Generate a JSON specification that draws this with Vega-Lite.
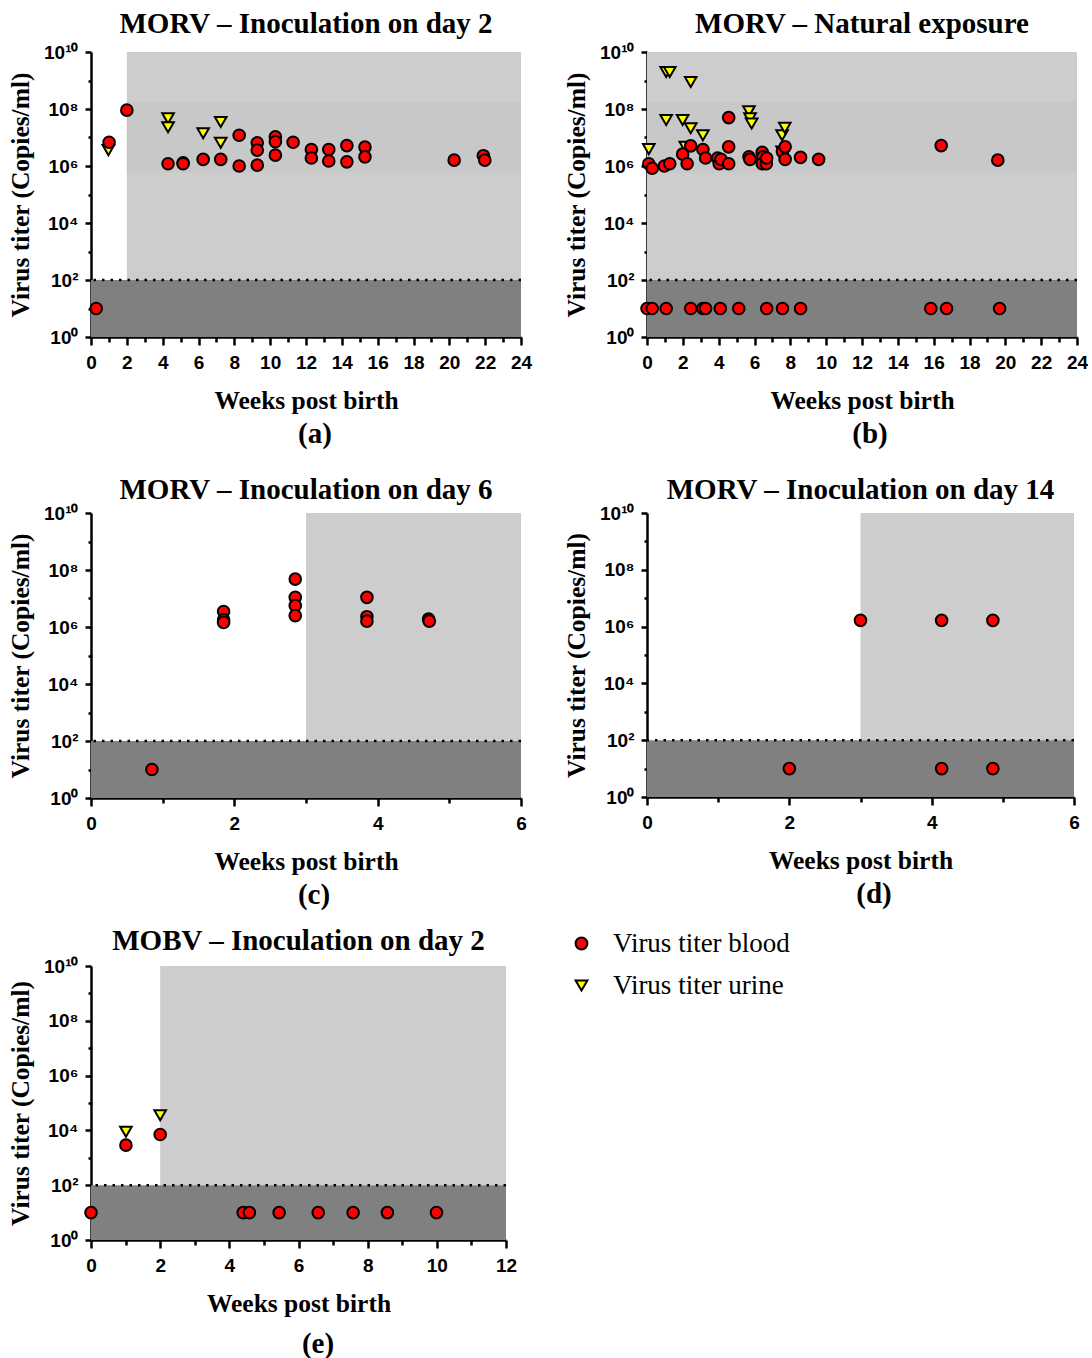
{
"$schema": "https://vega.github.io/schema/vega-lite/v6.json",
"background": "white",
"padding": {"left": 7, "top": 10, "right": 0, "bottom": 0},
"datasets": {
"lod": [{"lod": 100}],
"zones": [
{"panel":"a","zone":"light","x1":2,"x2":24,"y1":100,"y2":10000000000},
{"panel":"a","zone":"band","x1":2,"x2":24,"y1":575000,"y2":178000000},
{"panel":"a","zone":"dark","x1":0,"x2":24,"y1":1,"y2":100},
{"panel":"b","zone":"light","x1":0,"x2":24,"y1":100,"y2":10000000000},
{"panel":"b","zone":"band","x1":0,"x2":24,"y1":575000,"y2":178000000},
{"panel":"b","zone":"dark","x1":0,"x2":24,"y1":1,"y2":100},
{"panel":"c","zone":"light","x1":3,"x2":6,"y1":100,"y2":10000000000},
{"panel":"c","zone":"dark","x1":0,"x2":6,"y1":1,"y2":100},
{"panel":"d","zone":"light","x1":3,"x2":6,"y1":100,"y2":10000000000},
{"panel":"d","zone":"dark","x1":0,"x2":6,"y1":1,"y2":100},
{"panel":"e","zone":"light","x1":2,"x2":12,"y1":100,"y2":10000000000},
{"panel":"e","zone":"dark","x1":0,"x2":12,"y1":1,"y2":100}
],
"pts": [
{"panel":"a","week":0.97,"titer":3600000,"sample":"Virus titer urine"},
{"panel":"a","week":4.3,"titer":47000000,"sample":"Virus titer urine"},
{"panel":"a","week":4.3,"titer":23000000,"sample":"Virus titer urine"},
{"panel":"a","week":6.26,"titer":14000000,"sample":"Virus titer urine"},
{"panel":"a","week":7.24,"titer":35000000,"sample":"Virus titer urine"},
{"panel":"a","week":7.24,"titer":6500000,"sample":"Virus titer urine"},
{"panel":"b","week":0.1,"titer":3900000,"sample":"Virus titer urine"},
{"panel":"b","week":1.07,"titer":2000000000,"sample":"Virus titer urine"},
{"panel":"b","week":1.27,"titer":2000000000,"sample":"Virus titer urine"},
{"panel":"b","week":1.07,"titer":41000000,"sample":"Virus titer urine"},
{"panel":"b","week":1.99,"titer":41000000,"sample":"Virus titer urine"},
{"panel":"b","week":2.44,"titer":890000000,"sample":"Virus titer urine"},
{"panel":"b","week":2.44,"titer":21000000,"sample":"Virus titer urine"},
{"panel":"b","week":2.14,"titer":4700000,"sample":"Virus titer urine"},
{"panel":"b","week":3.12,"titer":12000000,"sample":"Virus titer urine"},
{"panel":"b","week":5.69,"titer":83000000,"sample":"Virus titer urine"},
{"panel":"b","week":5.75,"titer":47000000,"sample":"Virus titer urine"},
{"panel":"b","week":5.84,"titer":31000000,"sample":"Virus titer urine"},
{"panel":"b","week":7.54,"titer":12000000,"sample":"Virus titer urine"},
{"panel":"b","week":7.69,"titer":22000000,"sample":"Virus titer urine"},
{"panel":"b","week":7.54,"titer":3200000,"sample":"Virus titer urine"},
{"panel":"e","week":1.01,"titer":8900,"sample":"Virus titer urine"},
{"panel":"e","week":2.0,"titer":36000,"sample":"Virus titer urine"},
{"panel":"a","week":0.29,"titer":10,"sample":"Virus titer blood"},
{"panel":"a","week":1.01,"titer":6800000,"sample":"Virus titer blood"},
{"panel":"a","week":2.0,"titer":91000000,"sample":"Virus titer blood"},
{"panel":"a","week":4.3,"titer":1200000,"sample":"Virus titer blood"},
{"panel":"a","week":5.14,"titer":1300000,"sample":"Virus titer blood"},
{"panel":"a","week":5.14,"titer":1200000,"sample":"Virus titer blood"},
{"panel":"a","week":6.26,"titer":1700000,"sample":"Virus titer blood"},
{"panel":"a","week":7.24,"titer":1700000,"sample":"Virus titer blood"},
{"panel":"a","week":8.27,"titer":12000000,"sample":"Virus titer blood"},
{"panel":"a","week":8.27,"titer":1000000,"sample":"Virus titer blood"},
{"panel":"a","week":9.28,"titer":6500000,"sample":"Virus titer blood"},
{"panel":"a","week":9.28,"titer":3600000,"sample":"Virus titer blood"},
{"panel":"a","week":9.28,"titer":1070000,"sample":"Virus titer blood"},
{"panel":"a","week":10.29,"titer":10500000,"sample":"Virus titer blood"},
{"panel":"a","week":10.29,"titer":7100000,"sample":"Virus titer blood"},
{"panel":"a","week":10.29,"titer":2400000,"sample":"Virus titer blood"},
{"panel":"a","week":11.28,"titer":6800000,"sample":"Virus titer blood"},
{"panel":"a","week":12.3,"titer":3800000,"sample":"Virus titer blood"},
{"panel":"a","week":12.3,"titer":1900000,"sample":"Virus titer blood"},
{"panel":"a","week":13.27,"titer":3800000,"sample":"Virus titer blood"},
{"panel":"a","week":13.27,"titer":1500000,"sample":"Virus titer blood"},
{"panel":"a","week":14.28,"titer":5200000,"sample":"Virus titer blood"},
{"panel":"a","week":14.28,"titer":1400000,"sample":"Virus titer blood"},
{"panel":"a","week":15.29,"titer":4600000,"sample":"Virus titer blood"},
{"panel":"a","week":15.29,"titer":2100000,"sample":"Virus titer blood"},
{"panel":"a","week":20.27,"titer":1600000,"sample":"Virus titer blood"},
{"panel":"a","week":21.9,"titer":2300000,"sample":"Virus titer blood"},
{"panel":"a","week":21.98,"titer":1600000,"sample":"Virus titer blood"},
{"panel":"b","week":0,"titer":10,"sample":"Virus titer blood"},
{"panel":"b","week":0.29,"titer":10,"sample":"Virus titer blood"},
{"panel":"b","week":1.07,"titer":10,"sample":"Virus titer blood"},
{"panel":"b","week":2.44,"titer":10,"sample":"Virus titer blood"},
{"panel":"b","week":3.12,"titer":10,"sample":"Virus titer blood"},
{"panel":"b","week":3.27,"titer":10,"sample":"Virus titer blood"},
{"panel":"b","week":4.09,"titer":10,"sample":"Virus titer blood"},
{"panel":"b","week":5.12,"titer":10,"sample":"Virus titer blood"},
{"panel":"b","week":6.68,"titer":10,"sample":"Virus titer blood"},
{"panel":"b","week":7.56,"titer":10,"sample":"Virus titer blood"},
{"panel":"b","week":8.57,"titer":10,"sample":"Virus titer blood"},
{"panel":"b","week":15.84,"titer":10,"sample":"Virus titer blood"},
{"panel":"b","week":16.72,"titer":10,"sample":"Virus titer blood"},
{"panel":"b","week":19.68,"titer":10,"sample":"Virus titer blood"},
{"panel":"b","week":0.1,"titer":1200000,"sample":"Virus titer blood"},
{"panel":"b","week":0.29,"titer":830000,"sample":"Virus titer blood"},
{"panel":"b","week":0.97,"titer":1000000,"sample":"Virus titer blood"},
{"panel":"b","week":1.27,"titer":1200000,"sample":"Virus titer blood"},
{"panel":"b","week":1.99,"titer":2600000,"sample":"Virus titer blood"},
{"panel":"b","week":2.24,"titer":1200000,"sample":"Virus titer blood"},
{"panel":"b","week":2.44,"titer":5100000,"sample":"Virus titer blood"},
{"panel":"b","week":3.12,"titer":3800000,"sample":"Virus titer blood"},
{"panel":"b","week":3.27,"titer":1900000,"sample":"Virus titer blood"},
{"panel":"b","week":3.94,"titer":1900000,"sample":"Virus titer blood"},
{"panel":"b","week":4.03,"titer":1200000,"sample":"Virus titer blood"},
{"panel":"b","week":4.13,"titer":1700000,"sample":"Virus titer blood"},
{"panel":"b","week":4.56,"titer":50000000,"sample":"Virus titer blood"},
{"panel":"b","week":4.56,"titer":4700000,"sample":"Virus titer blood"},
{"panel":"b","week":4.56,"titer":1200000,"sample":"Virus titer blood"},
{"panel":"b","week":5.69,"titer":2100000,"sample":"Virus titer blood"},
{"panel":"b","week":5.75,"titer":1700000,"sample":"Virus titer blood"},
{"panel":"b","week":6.43,"titer":3000000,"sample":"Virus titer blood"},
{"panel":"b","week":6.47,"titer":2100000,"sample":"Virus titer blood"},
{"panel":"b","week":6.43,"titer":1200000,"sample":"Virus titer blood"},
{"panel":"b","week":6.66,"titer":1200000,"sample":"Virus titer blood"},
{"panel":"b","week":6.68,"titer":1900000,"sample":"Virus titer blood"},
{"panel":"b","week":7.56,"titer":3200000,"sample":"Virus titer blood"},
{"panel":"b","week":7.71,"titer":4700000,"sample":"Virus titer blood"},
{"panel":"b","week":7.71,"titer":1700000,"sample":"Virus titer blood"},
{"panel":"b","week":8.57,"titer":2000000,"sample":"Virus titer blood"},
{"panel":"b","week":9.58,"titer":1700000,"sample":"Virus titer blood"},
{"panel":"b","week":16.42,"titer":5200000,"sample":"Virus titer blood"},
{"panel":"b","week":19.58,"titer":1600000,"sample":"Virus titer blood"},
{"panel":"c","week":0.85,"titer":10,"sample":"Virus titer blood"},
{"panel":"c","week":1.85,"titer":3500000,"sample":"Virus titer blood"},
{"panel":"c","week":1.85,"titer":1800000,"sample":"Virus titer blood"},
{"panel":"c","week":1.85,"titer":1450000,"sample":"Virus titer blood"},
{"panel":"c","week":2.85,"titer":48000000,"sample":"Virus titer blood"},
{"panel":"c","week":2.85,"titer":11000000,"sample":"Virus titer blood"},
{"panel":"c","week":2.85,"titer":5600000,"sample":"Virus titer blood"},
{"panel":"c","week":2.85,"titer":2500000,"sample":"Virus titer blood"},
{"panel":"c","week":3.85,"titer":11000000,"sample":"Virus titer blood"},
{"panel":"c","week":3.85,"titer":2300000,"sample":"Virus titer blood"},
{"panel":"c","week":3.85,"titer":1600000,"sample":"Virus titer blood"},
{"panel":"c","week":4.71,"titer":1900000,"sample":"Virus titer blood"},
{"panel":"c","week":4.72,"titer":1600000,"sample":"Virus titer blood"},
{"panel":"d","week":2.0,"titer":10,"sample":"Virus titer blood"},
{"panel":"d","week":3.0,"titer":1660000,"sample":"Virus titer blood"},
{"panel":"d","week":4.14,"titer":1660000,"sample":"Virus titer blood"},
{"panel":"d","week":4.14,"titer":10,"sample":"Virus titer blood"},
{"panel":"d","week":4.86,"titer":1660000,"sample":"Virus titer blood"},
{"panel":"d","week":4.86,"titer":10,"sample":"Virus titer blood"},
{"panel":"e","week":0,"titer":10,"sample":"Virus titer blood"},
{"panel":"e","week":1.01,"titer":2900,"sample":"Virus titer blood"},
{"panel":"e","week":2.0,"titer":7100,"sample":"Virus titer blood"},
{"panel":"e","week":4.4,"titer":10,"sample":"Virus titer blood"},
{"panel":"e","week":4.58,"titer":10,"sample":"Virus titer blood"},
{"panel":"e","week":5.44,"titer":10,"sample":"Virus titer blood"},
{"panel":"e","week":6.57,"titer":10,"sample":"Virus titer blood"},
{"panel":"e","week":7.58,"titer":10,"sample":"Virus titer blood"},
{"panel":"e","week":8.57,"titer":10,"sample":"Virus titer blood"},
{"panel":"e","week":9.99,"titer":10,"sample":"Virus titer blood"}
]
},
"vconcat": [
{"hconcat": [
{"title": {"text": "(a)", "orient": "bottom", "offset": 6, "dx": 224},
 "vconcat": [{"width": 430, "height": 285, "title": {"text": "MORV – Inoculation on day 2"},
 "resolve": {"axis": {"x": "independent", "y": "independent"}},
 "layer": [
 {"data": {"name": "zones"}, "transform": [{"filter": "datum.panel == 'a' && datum.zone == 'light'"}], "mark": {"type": "rect", "color": "#cdcdcd"},
  "encoding": {
   "x": {"field": "x1", "type": "quantitative", "scale": {"domain": [0, 24], "nice": false, "zero": false}, "axis": {"title": "Weeks post birth", "orient": "bottom", "values": [0,2,4,6,8,10,12,14,16,18,20,22,24], "format": "d"}},
   "x2": {"field": "x2"},
   "y": {"field": "y1", "type": "quantitative", "scale": {"type": "log", "domain": [1, 10000000000], "nice": false}, "axis": {"title": "Virus titer (Copies/ml)", "orient": "left", "values": [1,100,10000,1000000,100000000,10000000000], "labelExpr": "datum.value == 10000000000 ? '10¹⁰' : datum.value == 100000000 ? '10⁸' : datum.value == 1000000 ? '10⁶' : datum.value == 10000 ? '10⁴' : datum.value == 100 ? '10²' : '10⁰'"}},
   "y2": {"field": "y2"}}},
 {"data": {"name": "zones"}, "transform": [{"filter": "datum.panel == 'a' && datum.zone == 'band'"}], "mark": {"type": "rect", "color": "#c8c8c8"},
  "encoding": {"x": {"field": "x1", "type": "quantitative", "scale": {"domain": [0, 24], "nice": false, "zero": false}, "axis": null}, "x2": {"field": "x2"}, "y": {"field": "y1", "type": "quantitative", "scale": {"type": "log", "domain": [1, 10000000000], "nice": false}, "axis": null}, "y2": {"field": "y2"}}},
 {"data": {"name": "zones"}, "transform": [{"filter": "datum.panel == 'a' && datum.zone == 'dark'"}], "mark": {"type": "rect", "color": "#808080"},
  "encoding": {
   "x": {"field": "x1", "type": "quantitative", "scale": {"domain": [0, 24], "nice": false, "zero": false}, "axis": {"title": null, "orient": "bottom", "values": [1,3,5,7,9,11,13,15,17,19,21,23], "labels": false, "domain": false, "tickSize": 5, "minExtent": 0, "maxExtent": 0}},
   "x2": {"field": "x2"},
   "y": {"field": "y1", "type": "quantitative", "scale": {"type": "log", "domain": [1, 10000000000], "nice": false}, "axis": {"title": null, "orient": "left", "values": [10,1000,100000,10000000,1000000000], "labels": false, "domain": false, "tickSize": 3, "minExtent": 0, "maxExtent": 0}},
   "y2": {"field": "y2"}}},
 {"data": {"name": "lod"}, "mark": {"type": "rule", "color": "black", "strokeWidth": 2.5, "strokeDash": [2.5, 6]},
  "encoding": {"y": {"field": "lod", "type": "quantitative", "scale": {"type": "log", "domain": [1, 10000000000], "nice": false}, "axis": null}}},
 {"data": {"name": "pts"}, "transform": [{"filter": "datum.panel == 'a'"}], "mark": {"type": "point", "filled": true, "stroke": "black", "strokeWidth": 2, "size": 135, "opacity": 1},
  "encoding": {
   "x": {"field": "week", "type": "quantitative", "scale": {"domain": [0, 24], "nice": false, "zero": false}, "axis": null},
   "y": {"field": "titer", "type": "quantitative", "scale": {"type": "log", "domain": [1, 10000000000], "nice": false}, "axis": null},
   "shape": {"field": "sample", "type": "nominal", "scale": {"domain": ["Virus titer blood", "Virus titer urine"], "range": ["circle", "triangle-down"]}, "legend": {"title": null, "encode": {"symbols": {"update": {"stroke": {"value": "black"}, "strokeWidth": {"value": 2}, "size": {"value": 140}}}}}},
   "fill": {"field": "sample", "type": "nominal", "scale": {"domain": ["Virus titer blood", "Virus titer urine"], "range": ["#ff0000", "#ffff00"]}, "legend": {"title": null, "encode": {"symbols": {"update": {"stroke": {"value": "black"}, "strokeWidth": {"value": 2}, "size": {"value": 140}}}}}}
  }}
 ]}]},
{"title": {"text": "(b)", "orient": "bottom", "offset": 6, "dx": 223},
 "vconcat": [{"width": 430, "height": 285, "title": {"text": "MORV – Natural exposure"},
 "resolve": {"axis": {"x": "independent", "y": "independent"}},
 "layer": [
 {"data": {"name": "zones"}, "transform": [{"filter": "datum.panel == 'b' && datum.zone == 'light'"}], "mark": {"type": "rect", "color": "#cdcdcd"},
  "encoding": {
   "x": {"field": "x1", "type": "quantitative", "scale": {"domain": [0, 24], "nice": false, "zero": false}, "axis": {"title": "Weeks post birth", "orient": "bottom", "values": [0,2,4,6,8,10,12,14,16,18,20,22,24], "format": "d"}},
   "x2": {"field": "x2"},
   "y": {"field": "y1", "type": "quantitative", "scale": {"type": "log", "domain": [1, 10000000000], "nice": false}, "axis": {"title": "Virus titer (Copies/ml)", "orient": "left", "values": [1,100,10000,1000000,100000000,10000000000], "labelExpr": "datum.value == 10000000000 ? '10¹⁰' : datum.value == 100000000 ? '10⁸' : datum.value == 1000000 ? '10⁶' : datum.value == 10000 ? '10⁴' : datum.value == 100 ? '10²' : '10⁰'"}},
   "y2": {"field": "y2"}}},
 {"data": {"name": "zones"}, "transform": [{"filter": "datum.panel == 'b' && datum.zone == 'band'"}], "mark": {"type": "rect", "color": "#c8c8c8"},
  "encoding": {"x": {"field": "x1", "type": "quantitative", "scale": {"domain": [0, 24], "nice": false, "zero": false}, "axis": null}, "x2": {"field": "x2"}, "y": {"field": "y1", "type": "quantitative", "scale": {"type": "log", "domain": [1, 10000000000], "nice": false}, "axis": null}, "y2": {"field": "y2"}}},
 {"data": {"name": "zones"}, "transform": [{"filter": "datum.panel == 'b' && datum.zone == 'dark'"}], "mark": {"type": "rect", "color": "#808080"},
  "encoding": {
   "x": {"field": "x1", "type": "quantitative", "scale": {"domain": [0, 24], "nice": false, "zero": false}, "axis": {"title": null, "orient": "bottom", "values": [1,3,5,7,9,11,13,15,17,19,21,23], "labels": false, "domain": false, "tickSize": 5, "minExtent": 0, "maxExtent": 0}},
   "x2": {"field": "x2"},
   "y": {"field": "y1", "type": "quantitative", "scale": {"type": "log", "domain": [1, 10000000000], "nice": false}, "axis": {"title": null, "orient": "left", "values": [10,1000,100000,10000000,1000000000], "labels": false, "domain": false, "tickSize": 3, "minExtent": 0, "maxExtent": 0}},
   "y2": {"field": "y2"}}},
 {"data": {"name": "lod"}, "mark": {"type": "rule", "color": "black", "strokeWidth": 2.5, "strokeDash": [2.5, 6]},
  "encoding": {"y": {"field": "lod", "type": "quantitative", "scale": {"type": "log", "domain": [1, 10000000000], "nice": false}, "axis": null}}},
 {"data": {"name": "pts"}, "transform": [{"filter": "datum.panel == 'b'"}], "mark": {"type": "point", "filled": true, "stroke": "black", "strokeWidth": 2, "size": 135, "opacity": 1},
  "encoding": {
   "x": {"field": "week", "type": "quantitative", "scale": {"domain": [0, 24], "nice": false, "zero": false}, "axis": null},
   "y": {"field": "titer", "type": "quantitative", "scale": {"type": "log", "domain": [1, 10000000000], "nice": false}, "axis": null},
   "shape": {"field": "sample", "type": "nominal", "scale": {"domain": ["Virus titer blood", "Virus titer urine"], "range": ["circle", "triangle-down"]}, "legend": {"title": null, "encode": {"symbols": {"update": {"stroke": {"value": "black"}, "strokeWidth": {"value": 2}, "size": {"value": 140}}}}}},
   "fill": {"field": "sample", "type": "nominal", "scale": {"domain": ["Virus titer blood", "Virus titer urine"], "range": ["#ff0000", "#ffff00"]}, "legend": {"title": null, "encode": {"symbols": {"update": {"stroke": {"value": "black"}, "strokeWidth": {"value": 2}, "size": {"value": 140}}}}}}
  }}
 ]}]}
], "spacing": 31},
{"vconcat": [
{"hconcat": [
{"title": {"text": "(c)", "orient": "bottom", "offset": 6, "dx": 223},
 "vconcat": [{"width": 430, "height": 285, "title": {"text": "MORV – Inoculation on day 6", "offset": -1},
 "resolve": {"axis": {"x": "independent", "y": "independent"}},
 "layer": [
 {"data": {"name": "zones"}, "transform": [{"filter": "datum.panel == 'c' && datum.zone == 'light'"}], "mark": {"type": "rect", "color": "#cdcdcd"},
  "encoding": {
   "x": {"field": "x1", "type": "quantitative", "scale": {"domain": [0, 6], "nice": false, "zero": false}, "axis": {"title": "Weeks post birth", "orient": "bottom", "values": [0,2,4,6], "format": "d"}},
   "x2": {"field": "x2"},
   "y": {"field": "y1", "type": "quantitative", "scale": {"type": "log", "domain": [1, 10000000000], "nice": false}, "axis": {"title": "Virus titer (Copies/ml)", "orient": "left", "values": [1,100,10000,1000000,100000000,10000000000], "labelExpr": "datum.value == 10000000000 ? '10¹⁰' : datum.value == 100000000 ? '10⁸' : datum.value == 1000000 ? '10⁶' : datum.value == 10000 ? '10⁴' : datum.value == 100 ? '10²' : '10⁰'"}},
   "y2": {"field": "y2"}}},
 {"data": {"name": "zones"}, "transform": [{"filter": "datum.panel == 'c' && datum.zone == 'dark'"}], "mark": {"type": "rect", "color": "#808080"},
  "encoding": {
   "x": {"field": "x1", "type": "quantitative", "scale": {"domain": [0, 6], "nice": false, "zero": false}, "axis": {"title": null, "orient": "bottom", "values": [1,3,5], "labels": false, "domain": false, "tickSize": 5, "minExtent": 0, "maxExtent": 0}},
   "x2": {"field": "x2"},
   "y": {"field": "y1", "type": "quantitative", "scale": {"type": "log", "domain": [1, 10000000000], "nice": false}, "axis": {"title": null, "orient": "left", "values": [10,1000,100000,10000000,1000000000], "labels": false, "domain": false, "tickSize": 3, "minExtent": 0, "maxExtent": 0}},
   "y2": {"field": "y2"}}},
 {"data": {"name": "lod"}, "mark": {"type": "rule", "color": "black", "strokeWidth": 2.5, "strokeDash": [2.5, 6]},
  "encoding": {"y": {"field": "lod", "type": "quantitative", "scale": {"type": "log", "domain": [1, 10000000000], "nice": false}, "axis": null}}},
 {"data": {"name": "pts"}, "transform": [{"filter": "datum.panel == 'c'"}], "mark": {"type": "point", "filled": true, "stroke": "black", "strokeWidth": 2, "size": 135, "opacity": 1},
  "encoding": {
   "x": {"field": "week", "type": "quantitative", "scale": {"domain": [0, 6], "nice": false, "zero": false}, "axis": null},
   "y": {"field": "titer", "type": "quantitative", "scale": {"type": "log", "domain": [1, 10000000000], "nice": false}, "axis": null},
   "shape": {"field": "sample", "type": "nominal", "scale": {"domain": ["Virus titer blood", "Virus titer urine"], "range": ["circle", "triangle-down"]}, "legend": {"title": null, "encode": {"symbols": {"update": {"stroke": {"value": "black"}, "strokeWidth": {"value": 2}, "size": {"value": 140}}}}}},
   "fill": {"field": "sample", "type": "nominal", "scale": {"domain": ["Virus titer blood", "Virus titer urine"], "range": ["#ff0000", "#ffff00"]}, "legend": {"title": null, "encode": {"symbols": {"update": {"stroke": {"value": "black"}, "strokeWidth": {"value": 2}, "size": {"value": 140}}}}}}
  }}
 ]}]},
{"title": {"text": "(d)", "orient": "bottom", "offset": 6, "dx": 227},
 "vconcat": [{"width": 427, "height": 284, "title": {"text": "MORV – Inoculation on day 14", "offset": -1},
 "resolve": {"axis": {"x": "independent", "y": "independent"}},
 "layer": [
 {"data": {"name": "zones"}, "transform": [{"filter": "datum.panel == 'd' && datum.zone == 'light'"}], "mark": {"type": "rect", "color": "#cdcdcd"},
  "encoding": {
   "x": {"field": "x1", "type": "quantitative", "scale": {"domain": [0, 6], "nice": false, "zero": false}, "axis": {"title": "Weeks post birth", "orient": "bottom", "values": [0,2,4,6], "format": "d"}},
   "x2": {"field": "x2"},
   "y": {"field": "y1", "type": "quantitative", "scale": {"type": "log", "domain": [1, 10000000000], "nice": false}, "axis": {"title": "Virus titer (Copies/ml)", "orient": "left", "values": [1,100,10000,1000000,100000000,10000000000], "labelExpr": "datum.value == 10000000000 ? '10¹⁰' : datum.value == 100000000 ? '10⁸' : datum.value == 1000000 ? '10⁶' : datum.value == 10000 ? '10⁴' : datum.value == 100 ? '10²' : '10⁰'"}},
   "y2": {"field": "y2"}}},
 {"data": {"name": "zones"}, "transform": [{"filter": "datum.panel == 'd' && datum.zone == 'dark'"}], "mark": {"type": "rect", "color": "#808080"},
  "encoding": {
   "x": {"field": "x1", "type": "quantitative", "scale": {"domain": [0, 6], "nice": false, "zero": false}, "axis": {"title": null, "orient": "bottom", "values": [1,3,5], "labels": false, "domain": false, "tickSize": 5, "minExtent": 0, "maxExtent": 0}},
   "x2": {"field": "x2"},
   "y": {"field": "y1", "type": "quantitative", "scale": {"type": "log", "domain": [1, 10000000000], "nice": false}, "axis": {"title": null, "orient": "left", "values": [10,1000,100000,10000000,1000000000], "labels": false, "domain": false, "tickSize": 3, "minExtent": 0, "maxExtent": 0}},
   "y2": {"field": "y2"}}},
 {"data": {"name": "lod"}, "mark": {"type": "rule", "color": "black", "strokeWidth": 2.5, "strokeDash": [2.5, 6]},
  "encoding": {"y": {"field": "lod", "type": "quantitative", "scale": {"type": "log", "domain": [1, 10000000000], "nice": false}, "axis": null}}},
 {"data": {"name": "pts"}, "transform": [{"filter": "datum.panel == 'd'"}], "mark": {"type": "point", "filled": true, "stroke": "black", "strokeWidth": 2, "size": 135, "opacity": 1},
  "encoding": {
   "x": {"field": "week", "type": "quantitative", "scale": {"domain": [0, 6], "nice": false, "zero": false}, "axis": null},
   "y": {"field": "titer", "type": "quantitative", "scale": {"type": "log", "domain": [1, 10000000000], "nice": false}, "axis": null},
   "shape": {"field": "sample", "type": "nominal", "scale": {"domain": ["Virus titer blood", "Virus titer urine"], "range": ["circle", "triangle-down"]}, "legend": {"title": null, "encode": {"symbols": {"update": {"stroke": {"value": "black"}, "strokeWidth": {"value": 2}, "size": {"value": 140}}}}}},
   "fill": {"field": "sample", "type": "nominal", "scale": {"domain": ["Virus titer blood", "Virus titer urine"], "range": ["#ff0000", "#ffff00"]}, "legend": {"title": null, "encode": {"symbols": {"update": {"stroke": {"value": "black"}, "strokeWidth": {"value": 2}, "size": {"value": 140}}}}}}
  }}
 ]}]}
], "spacing": 36},
{"hconcat": [
{"title": {"text": "(e)", "orient": "bottom", "offset": 13, "dx": 227},
 "vconcat": [{"width": 415, "height": 274, "title": {"text": "MOBV – Inoculation on day 2", "offset": 1},
 "resolve": {"axis": {"x": "independent", "y": "independent"}},
 "layer": [
 {"data": {"name": "zones"}, "transform": [{"filter": "datum.panel == 'e' && datum.zone == 'light'"}], "mark": {"type": "rect", "color": "#cdcdcd"},
  "encoding": {
   "x": {"field": "x1", "type": "quantitative", "scale": {"domain": [0, 12], "nice": false, "zero": false}, "axis": {"title": "Weeks post birth", "orient": "bottom", "values": [0,2,4,6,8,10,12], "format": "d"}},
   "x2": {"field": "x2"},
   "y": {"field": "y1", "type": "quantitative", "scale": {"type": "log", "domain": [1, 10000000000], "nice": false}, "axis": {"title": "Virus titer (Copies/ml)", "orient": "left", "values": [1,100,10000,1000000,100000000,10000000000], "labelExpr": "datum.value == 10000000000 ? '10¹⁰' : datum.value == 100000000 ? '10⁸' : datum.value == 1000000 ? '10⁶' : datum.value == 10000 ? '10⁴' : datum.value == 100 ? '10²' : '10⁰'"}},
   "y2": {"field": "y2"}}},
 {"data": {"name": "zones"}, "transform": [{"filter": "datum.panel == 'e' && datum.zone == 'dark'"}], "mark": {"type": "rect", "color": "#808080"},
  "encoding": {
   "x": {"field": "x1", "type": "quantitative", "scale": {"domain": [0, 12], "nice": false, "zero": false}, "axis": {"title": null, "orient": "bottom", "values": [1,3,5,7,9,11], "labels": false, "domain": false, "tickSize": 5, "minExtent": 0, "maxExtent": 0}},
   "x2": {"field": "x2"},
   "y": {"field": "y1", "type": "quantitative", "scale": {"type": "log", "domain": [1, 10000000000], "nice": false}, "axis": {"title": null, "orient": "left", "values": [10,1000,100000,10000000,1000000000], "labels": false, "domain": false, "tickSize": 3, "minExtent": 0, "maxExtent": 0}},
   "y2": {"field": "y2"}}},
 {"data": {"name": "lod"}, "mark": {"type": "rule", "color": "black", "strokeWidth": 2.5, "strokeDash": [2.5, 6]},
  "encoding": {"y": {"field": "lod", "type": "quantitative", "scale": {"type": "log", "domain": [1, 10000000000], "nice": false}, "axis": null}}},
 {"data": {"name": "pts"}, "transform": [{"filter": "datum.panel == 'e'"}], "mark": {"type": "point", "filled": true, "stroke": "black", "strokeWidth": 2, "size": 135, "opacity": 1},
  "encoding": {
   "x": {"field": "week", "type": "quantitative", "scale": {"domain": [0, 12], "nice": false, "zero": false}, "axis": null},
   "y": {"field": "titer", "type": "quantitative", "scale": {"type": "log", "domain": [1, 10000000000], "nice": false}, "axis": null},
   "shape": {"field": "sample", "type": "nominal", "scale": {"domain": ["Virus titer blood", "Virus titer urine"], "range": ["circle", "triangle-down"]}, "legend": {"title": null, "encode": {"symbols": {"update": {"stroke": {"value": "black"}, "strokeWidth": {"value": 2}, "size": {"value": 140}}}}}},
   "fill": {"field": "sample", "type": "nominal", "scale": {"domain": ["Virus titer blood", "Virus titer urine"], "range": ["#ff0000", "#ffff00"]}, "legend": {"title": null, "encode": {"symbols": {"update": {"stroke": {"value": "black"}, "strokeWidth": {"value": 2}, "size": {"value": 140}}}}}}
  }}
 ]}]}
]}
], "spacing": 17}
],
"spacing": 27,
"config": {
 "view": {"stroke": null},
 "axis": {"grid": false, "ticks": true, "domainColor": "black", "domainWidth": 2.5, "tickColor": "black", "tickWidth": 2.5, "tickOpacity": 1, "labelFont": "Liberation Sans", "labelFontWeight": "bold", "labelFontSize": 19, "labelColor": "black", "titleFont": "Liberation Serif", "titleFontWeight": "bold", "titleFontSize": 25.5, "titleColor": "black", "labelOverlap": false, "labelFlush": false},
 "axisX": {"tickSize": 8, "labelPadding": 8, "minExtent": 34, "maxExtent": 34, "titlePadding": 17},
 "axisY": {"tickSize": 6, "labelPadding": 7, "minExtent": 50, "maxExtent": 50, "titlePadding": 8},
 "title": {"font": "Liberation Serif", "fontWeight": "bold", "fontSize": 29, "color": "black", "anchor": "middle", "frame": "group", "offset": 4},
 "legend": {"orient": "none", "legendX": 477, "legendY": 878, "labelFont": "Liberation Serif", "labelFontSize": 27, "labelColor": "black", "labelLimit": 0, "symbolSize": 140, "symbolStrokeColor": "black", "symbolStrokeWidth": 2, "rowPadding": 14, "labelOffset": 18, "symbolOpacity": 1}
}
}
